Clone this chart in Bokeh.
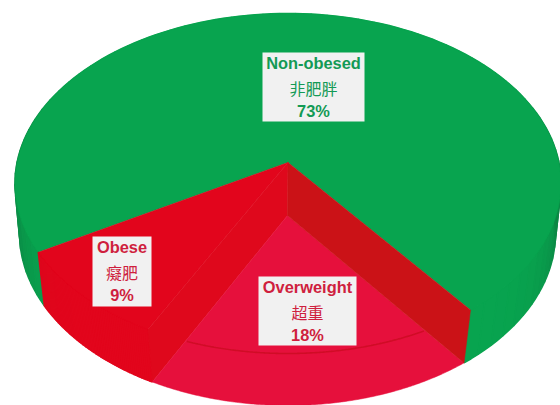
import numpy as np
from bokeh.core.properties import value
from bokeh.embed import file_html
from bokeh.models import Range1d
from bokeh.plotting import figure
from bokeh.resources import INLINE

# Shares of the population by weight class
names_en = ["Non-obesed", "Obese", "Overweight"]
names_zh = ["非肥胖", "癡肥", "超重"]
shares = [73, 9, 18]

GREEN, OBESE_RED, OVER_RED = "#08a44f", "#e2051c", "#e6103c"
CUT_WALL = "#cb1217"
SIDE_WALL = "#df081c"
RIM = "#d00c26"
START_DEG = 307.4
TEXT_COLORS = ["#139a55", "#cf1f3e", "#cf1f3e"]
BOX_COLOR = "#f1f1f1"


def level(cx, top, bottom, apex, half_width):
    """Perspective projection of a horizontal disc, from unit-circle angle to page pixels."""
    c = ((apex - top) - (bottom - apex)) / (top - bottom)
    a = top * (1 + c) - apex

    def project(deg):
        t = np.radians(np.asarray(deg, dtype=float))
        u, v = np.cos(t), np.sin(t)
        w = 1 + c * v
        return cx + half_width * u / w, (a * v + apex) / w

    return project, (cx, apex)


upper, upper_apex = level(287.5, 13, 353, 162, 271)
lower, lower_apex = level(287, 61, 405, 215, 266.5)

edges = START_DEG + np.cumsum([0] + shares) * 3.6
p = figure(width=560, height=405, output_backend="svg", toolbar_location=None,
           x_range=Range1d(0, 560), y_range=Range1d(405, 0),
           min_border=0, outline_line_color=None, background_fill_color="white",
           border_fill_color="white")
p.axis.visible = False
p.grid.visible = False


def arc(project, a0, a1, n=160):
    return project(np.linspace(a0, a1, n))


def wedge(project, apex, a0, a1):
    x, y = arc(project, a0, a1)
    return np.r_[apex[0], x], np.r_[apex[1], y]


def mix(c0, c1, t):
    rgb0 = [int(c0[i:i + 2], 16) for i in (1, 3, 5)]
    rgb1 = [int(c1[i:i + 2], 16) for i in (1, 3, 5)]
    return "#" + "".join(f"{round(a + (b - a) * t):02x}" for a, b in zip(rgb0, rgb1))


def wall(a0, a1, light, dark, power):
    """Outer side of a slice, shaded towards the flanks of the disc."""
    steps = np.linspace(a0, a1, 70)
    xs, ys, colors = [], [], []
    for s0, s1 in zip(steps[:-1], steps[1:]):
        tx, ty = arc(upper, s0, s1, 3)
        bx, by = arc(lower, s1, s0, 3)
        xs.append(np.r_[tx, bx])
        ys.append(np.r_[ty, by])
        colors.append(mix(light, dark, abs(np.cos(np.radians((s0 + s1) / 2))) ** power))
    p.patches(xs, ys, fill_color=colors, line_color=colors, line_width=1.5)


# Non-obesed slice: side wall, then top face
wall(edges[0], edges[1], GREEN, "#0c8644", 12)
x, y = wedge(upper, upper_apex, edges[0], edges[1])
p.patch(x, y, fill_color=GREEN, line_color=GREEN, line_width=0.5)

# Obese slice: side wall, top face, and the cut facing the recessed slice
wall(edges[1], edges[2], OBESE_RED, "#bf0f1c", 14)
x, y = wedge(upper, upper_apex, edges[1], edges[2])
p.patch(x, y, fill_color=OBESE_RED, line_color=OBESE_RED, line_width=0.5)
tx, ty = upper(edges[2])
bx, by = lower(edges[2])
p.patch([upper_apex[0], tx, bx, lower_apex[0]], [upper_apex[1], ty, by, lower_apex[1]],
        fill_color=SIDE_WALL, line_color=SIDE_WALL, line_width=0.5)

# Overweight slice sits one level lower, showing the cut wall on its right
x, y = wedge(lower, lower_apex, edges[2], edges[3])
p.patch(x, y, fill_color=OVER_RED, line_color=OVER_RED, line_width=0.5)
tx, ty = upper(edges[3])
bx, by = lower(edges[3])
p.patch([upper_apex[0], tx, bx, lower_apex[0]], [upper_apex[1], ty, by, lower_apex[1]],
        fill_color=CUT_WALL, line_color=CUT_WALL, line_width=0.5)

# Rim of the upper level, seen across the recessed slice
rx, ry = arc(upper, 225, 320, 300)
left_end = lower(edges[2])
right_end = lower(edges[3])
side_l = (rx - lower_apex[0]) * (left_end[1] - lower_apex[1]) - (ry - lower_apex[1]) * (left_end[0] - lower_apex[0])
side_r = (rx - lower_apex[0]) * (right_end[1] - lower_apex[1]) - (ry - lower_apex[1]) * (right_end[0] - lower_apex[0])
keep = (side_l > 0) & (side_r < 0)
p.line(rx[keep], ry[keep], line_color=RIM, line_width=1.6)

# Label cards
box_left = [262, 92, 258]
box_right = [364, 151, 356]
box_top = [52, 236, 276]
box_bottom = [121, 306, 345]
p.quad(left=box_left, right=box_right, top=box_top, bottom=box_bottom,
       fill_color=BOX_COLOR, line_color=None)

mid = [(a + b) / 2 for a, b in zip(box_left, box_right)]
tops = np.array(box_top)
p.text(mid, tops + 10.5, text=names_en, text_color=TEXT_COLORS,
       text_font=value("Liberation Sans"), text_font_style="bold", text_font_size="16.4px",
       text_align="center", text_baseline="middle")
p.text(mid, tops + 35, text=names_zh, text_color=TEXT_COLORS,
       text_font=value("Noto Sans CJK TC"), text_font_size="16px",
       text_align="center", text_baseline="middle")
p.text(mid, tops + 58, text=[f"{s}%" for s in shares], text_color=TEXT_COLORS,
       text_font=value("Liberation Sans"), text_font_style="bold", text_font_size="16.4px",
       text_align="center", text_baseline="middle")

open("out.html", "w").write(file_html(p, INLINE))
